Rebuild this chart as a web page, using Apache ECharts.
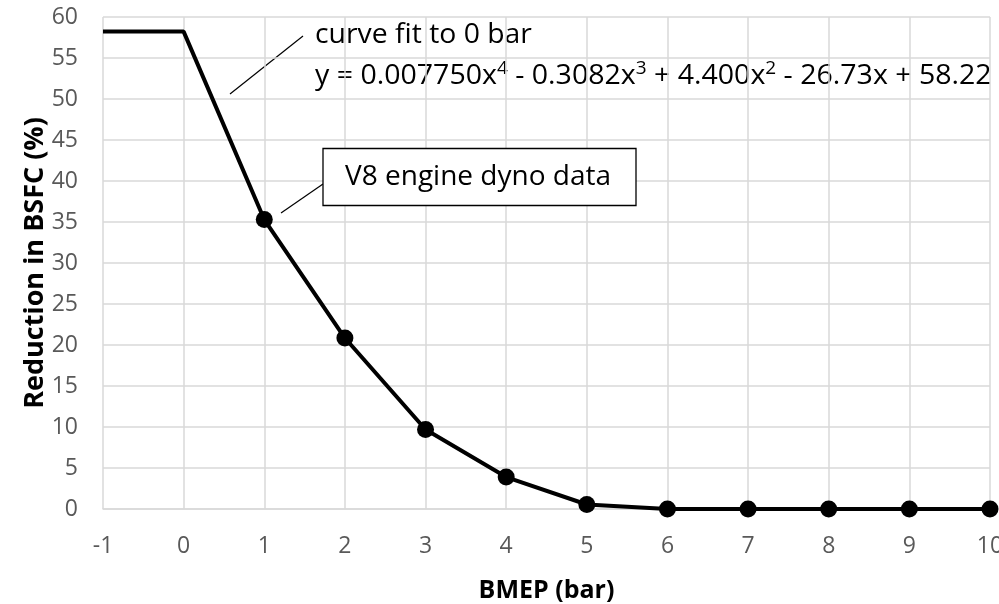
<!DOCTYPE html>
<html>
<head>
<meta charset="utf-8">
<script src="https://cdn.jsdelivr.net/npm/echarts@6/dist/echarts.min.js"></script>
<style>
html,body{margin:0;padding:0;background:#fff;}
#chart{width:999px;height:604px;}
</style>
</head>
<body>
<div id="chart"></div>
<script>
var xValues = [-1, 0, 1, 2, 3, 4, 5, 6, 7, 8, 9, 10];
var yValues = [58.22, 58.22, 35.3, 20.85, 9.7, 3.9, 0.55, 0, 0, 0, 0, 0];
var noMarker = [true, true, false, false, false, false, false, false, false, false, false, false];
var xTitle = 'BMEP (bar)';
var yTitle = 'Reduction in BSFC (%)';
var fitLabel = 'curve fit to 0 bar';
var dataLabel = 'V8 engine dyno data';

var FONT = '"Open Sans", sans-serif';
var chart = echarts.init(document.getElementById('chart'), null, {renderer: 'canvas'});

var seriesData = xValues.map(function (x, i) {
  var item = {value: [x, yValues[i]]};
  if (noMarker[i]) item.symbol = 'none';
  return item;
});

var option = {
  backgroundColor: '#ffffff',
  animation: false,
  grid: {left: 103, right: 9, top: 17, bottom: 95, containLabel: false, outerBoundsMode: 'none'},
  xAxis: {
    type: 'value', min: -1, max: 10, interval: 1,
    name: xTitle, nameLocation: 'middle', nameGap: 69, nameMoveOverlap: false,
    nameTextStyle: {fontFamily: FONT, fontSize: 25, fontWeight: 'bold', color: '#000'},
    axisLine: {show: true, onZero: false, lineStyle: {color: '#d9d9d9', width: 1.5}},
    axisTick: {show: false},
    axisLabel: {fontFamily: FONT, fontSize: 23, color: '#595959', margin: 26},
    splitLine: {show: true, lineStyle: {color: '#d9d9d9', width: 1.5}}
  },
  yAxis: {
    type: 'value', min: 0, max: 60, interval: 5,
    name: yTitle, nameLocation: 'middle', nameGap: 54, nameRotate: 90, nameMoveOverlap: false,
    nameTextStyle: {fontFamily: FONT, fontSize: 27, fontWeight: 'bold', color: '#000'},
    axisLine: {show: false},
    axisTick: {show: false},
    axisLabel: {fontFamily: FONT, fontSize: 23, color: '#595959', margin: 25},
    splitLine: {show: true, lineStyle: {color: '#d9d9d9', width: 1.5}}
  },
  series: [{
    type: 'line',
    data: seriesData,
    symbol: 'circle',
    symbolSize: 17,
    showAllSymbol: true,
    lineStyle: {color: '#000', width: 4},
    itemStyle: {color: '#000'},
    z: 3
  }],
  graphic: [
    {type: 'line', shape: {x1: 230, y1: 94, x2: 303, y2: 36}, style: {stroke: '#000', lineWidth: 1.2}},
    {type: 'text', x: 315, y: 35, scaleX: 1.05, style: {text: fitLabel, fontFamily: FONT, fontSize: 27, fill: '#000', verticalAlign: 'middle'}},
    {type: 'text', x: 315, y: 76, scaleX: 1.056, style: {
      text: 'y = 0.007750x{s|4} - 0.3082x{s|3} + 4.400x{s|2} - 26.73x + 58.22',
      fontFamily: FONT, fontSize: 27, fill: '#000', verticalAlign: 'middle',
      rich: {s: {fontSize: 18, fontFamily: FONT, verticalAlign: 'top', padding: [0, 0, 14, 0], fill: '#000'}}
    }},
    {type: 'line', shape: {x1: 281, y1: 213, x2: 323, y2: 184}, style: {stroke: '#000', lineWidth: 1.2}},
    {type: 'rect', shape: {x: 323, y: 148.5, width: 313, height: 57}, style: {fill: '#fff', stroke: '#000', lineWidth: 1.3}, z: 10},
    {type: 'text', x: 478, y: 177, z: 11, style: {text: dataLabel, fontFamily: FONT, fontSize: 28, fill: '#000', align: 'center', verticalAlign: 'middle'}}
  ]
};
chart.setOption(option);
</script>
</body>
</html>
